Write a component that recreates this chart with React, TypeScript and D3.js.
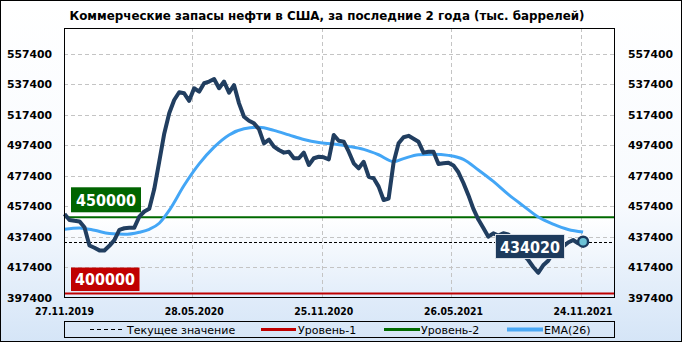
import React from "react";
import * as d3 from "d3";

const W = 682;
const H = 342;

const title = "Коммерческие  запасы  нефти  в  США,  за  последние  2  года  (тыс.  баррелей)";

// weekly values, thousands of barrels (27.11.2019 .. 24.11.2021)
const stocks = [
  452200, 448200, 447700, 447300, 443500, 431500, 430000, 428300, 428200, 431300,
  435000, 441700, 442800, 443200, 443200, 450400, 453800, 455600, 468500, 486500,
  504800, 518200, 526900, 532000, 531300, 526400, 534600, 532400, 537900, 539000,
  540700, 534600, 539000, 531700, 536700, 524700, 515900, 513300, 511600, 507800,
  498500, 500900, 496300, 494100, 492400, 493000, 488700, 488700, 492400, 484300,
  488700, 489700, 489300, 488000, 504000, 500200, 499600, 493000, 485400, 482100,
  486400, 476600, 475600, 470100, 461300, 462300, 486000, 498500, 502500, 503400,
  501500, 499500, 492400, 493000, 493000, 485000, 485400, 485800, 484000, 479500,
  472500, 464500, 455500, 448500, 443000, 437300, 439500, 438000, 439500, 438800,
  435500, 432500, 425400, 422000, 417400, 413600, 418500, 421500, 427000, 426500,
  430800, 433500, 435100, 433000, 434020,
];

// EMA(26) at selected weeks
const emaWeeks = [0, 3, 6, 9, 12, 15, 17, 19, 21, 24, 27, 30, 33, 36, 39, 42, 45, 48, 51, 54, 57, 60, 63, 66, 68, 71, 74, 77, 80, 83, 86, 89, 92, 95, 98, 101, 104];
const emaValues = [
  442100, 443000, 441500, 439300, 438800, 440200, 442100, 446100, 454500, 471000,
  485000, 496000, 504000, 508000, 509000, 507000, 504000, 501000, 499000, 498000,
  496500, 494500, 491000, 486500, 488500, 491000, 491400, 490600, 488000, 481000,
  473500, 465000, 457500, 450200, 445500, 442000, 440300,
];

const yTicks = [397400, 417400, 437400, 457400, 477400, 497400, 517400, 537400, 557400];
const xTickWeeks = [0, 26, 52, 78, 104];
const xTickLabels = ["27.11.2019", "28.05.2020", "25.11.2020", "26.05.2021", "24.11.2021"];

const level1 = 400000;
const level2 = 450000;
const current = 434020;

const legendItems = ["Текущее значение", "Уровень-1", "Уровень-2", "EMA(26)"];

const plot = { left: 64, right: 615, top: 28, bottom: 297.5 };

export default function App() {
  const x = d3.scaleLinear().domain([0, 110.4]).range([64.5, 615]);
  const y = d3.scaleLinear().domain([397400, 557400]).range([297.5, 53.5]);

  const mainLine = d3
    .line<number>()
    .x((_, i) => x(i))
    .y((d) => y(d));

  const emaLine = d3
    .line<number>()
    .x((_, i) => x(emaWeeks[i]))
    .y((d) => y(d))
    .curve(d3.curveMonotoneX);

  const lastIdx = stocks.length - 1;
  const font = "'DejaVu Sans', Verdana, sans-serif";
  const navy = "#213e60";

  const legendX = [
    { lx1: 90, lx2: 122, tx: 127 },
    { lx1: 261, lx2: 296, tx: 298 },
    { lx1: 384, lx2: 420, tx: 421 },
    { lx1: 507, lx2: 543, tx: 544 },
  ];
  const legendStyles = [
    { stroke: "#000", width: 1, dash: "4,3" },
    { stroke: "#c00000", width: 3, dash: undefined },
    { stroke: "#006a00", width: 3, dash: undefined },
    { stroke: "#4aa8f5", width: 4, dash: undefined },
  ];

  return (
    <>
      <style>{`body{margin:0}`}</style>
      <svg width={W} height={H} style={{ display: "block" }}>
        <defs>
          <linearGradient id="bg" x1="0" y1="0" x2="0" y2="1">
            <stop offset="0" stopColor="#ffffff" />
            <stop offset="0.6" stopColor="#f7fafe" />
            <stop offset="1" stopColor="#d5e5f7" />
          </linearGradient>
          <linearGradient id="pbg" x1="0" y1="0" x2="0" y2="1">
            <stop offset="0" stopColor="#ffffff" />
            <stop offset="0.7" stopColor="#ffffff" />
            <stop offset="1" stopColor="#e2edfa" />
          </linearGradient>
        </defs>
        <rect x={0.5} y={0.5} width={W - 1} height={H - 1} fill="url(#bg)" stroke="#000" />
        <text
          x={327}
          y={20}
          textAnchor="middle"
          fontFamily={font}
          fontWeight="bold"
          fontSize={12.5}
          textLength={515}
          lengthAdjust="spacingAndGlyphs"
          fill="#000"
        >
          {title}
        </text>

        <rect
          x={plot.left}
          y={plot.top}
          width={plot.right - plot.left}
          height={plot.bottom - plot.top}
          fill="url(#pbg)"
        />

        {/* grid */}
        {yTicks.slice(1).map((t) => (
          <line
            key={"gy" + t}
            x1={plot.left}
            x2={plot.right}
            y1={Math.round(y(t)) + 0.5}
            y2={Math.round(y(t)) + 0.5}
            stroke="#c4c4c4"
            strokeDasharray="4,3"
          />
        ))}
        {xTickWeeks.slice(1).map((w) => (
          <line
            key={"gx" + w}
            x1={Math.round(x(w)) - 1.5}
            x2={Math.round(x(w)) - 1.5}
            y1={plot.top}
            y2={plot.bottom}
            stroke="#c4c4c4"
            strokeDasharray="4,3"
          />
        ))}

        {/* levels */}
        <line x1={plot.left} x2={plot.right} y1={y(level1)} y2={y(level1)} stroke="#c00000" strokeWidth={2} />
        <line x1={plot.left} x2={plot.right} y1={y(level2)} y2={y(level2)} stroke="#006a00" strokeWidth={2} />
        <line
          x1={plot.left}
          x2={plot.right}
          y1={Math.round(y(current)) + 0.5}
          y2={Math.round(y(current)) + 0.5}
          stroke="#000"
          strokeDasharray="3,2"
        />

        {/* EMA */}
        <path d={emaLine(emaValues) || ""} fill="none" stroke="#43a6f6" strokeWidth={3} strokeLinejoin="round" />

        {/* main series */}
        <path
          d={mainLine(stocks) || ""}
          fill="none"
          stroke={navy}
          strokeWidth={4}
          strokeLinejoin="round"
        />

        {/* level labels */}
        <rect x={71} y={y(level2) - 30} width={70} height={25} fill="#006400" />
        <text
          x={106}
          y={y(level2) - 11.5}
          textAnchor="middle"
          fill="#fff"
          fontFamily={font}
          fontWeight="bold"
          fontSize={15.5}
          textLength={60}
          lengthAdjust="spacingAndGlyphs"
        >
          {String(level2)}
        </text>
        <rect x={71} y={y(level1) - 26} width={68.5} height={23.5} fill="#c00000" />
        <text
          x={105}
          y={y(level1) - 8.5}
          textAnchor="middle"
          fill="#fff"
          fontFamily={font}
          fontWeight="bold"
          fontSize={15.5}
          textLength={60}
          lengthAdjust="spacingAndGlyphs"
        >
          {String(level1)}
        </text>

        {/* end marker */}
        <circle cx={x(lastIdx)} cy={y(stocks[lastIdx])} r={5} fill="#6cc2d6" stroke="#1b3a5e" strokeWidth={2.5} />

        {/* current value label */}
        <rect x={495.5} y={234.5} width={69} height={24} fill="#1d3a5c" stroke="#d8dee6" strokeWidth={1} />
        <text
          x={530}
          y={252.5}
          textAnchor="middle"
          fill="#fff"
          fontFamily={font}
          fontWeight="bold"
          fontSize={15.5}
          textLength={60}
          lengthAdjust="spacingAndGlyphs"
        >
          {String(current)}
        </text>

        {/* frame */}
        <rect
          x={plot.left + 0.5}
          y={plot.top + 0.5}
          width={plot.right - plot.left - 1}
          height={plot.bottom - plot.top - 0.5}
          fill="none"
          stroke="#000"
        />

        {/* y labels */}
        {yTicks.map((t) => (
          <g key={"yl" + t}>
            <text x={52} y={y(t) + 4} textAnchor="end" fontFamily={font} fontWeight="bold" fontSize={10.8} fill="#000">
              {String(t)}
            </text>
            <text x={628} y={y(t) + 4} textAnchor="start" fontFamily={font} fontWeight="bold" fontSize={10.8} fill="#000">
              {String(t)}
            </text>
          </g>
        ))}

        {/* x labels */}
        {xTickWeeks.map((w, i) => (
          <text
            key={"xl" + w}
            x={x(w)}
            y={315}
            textAnchor="middle"
            fontFamily={font}
            fontWeight="bold"
            fontSize={10}
            textLength={59}
            lengthAdjust="spacingAndGlyphs"
            fill="#000"
          >
            {xTickLabels[i]}
          </text>
        ))}

        {/* legend */}
        <rect x={64.5} y={321.5} width={550} height={16} fill="none" stroke="#000" />
        {legendItems.map((name, i) => (
          <g key={name}>
            <line
              x1={legendX[i].lx1}
              x2={legendX[i].lx2}
              y1={329.5}
              y2={329.5}
              stroke={legendStyles[i].stroke}
              strokeWidth={legendStyles[i].width}
              strokeDasharray={legendStyles[i].dash}
            />
            <text x={legendX[i].tx} y={333.5} fontFamily={font} fontSize={11} fill="#000">
              {name}
            </text>
          </g>
        ))}
      </svg>
    </>
  );
}
